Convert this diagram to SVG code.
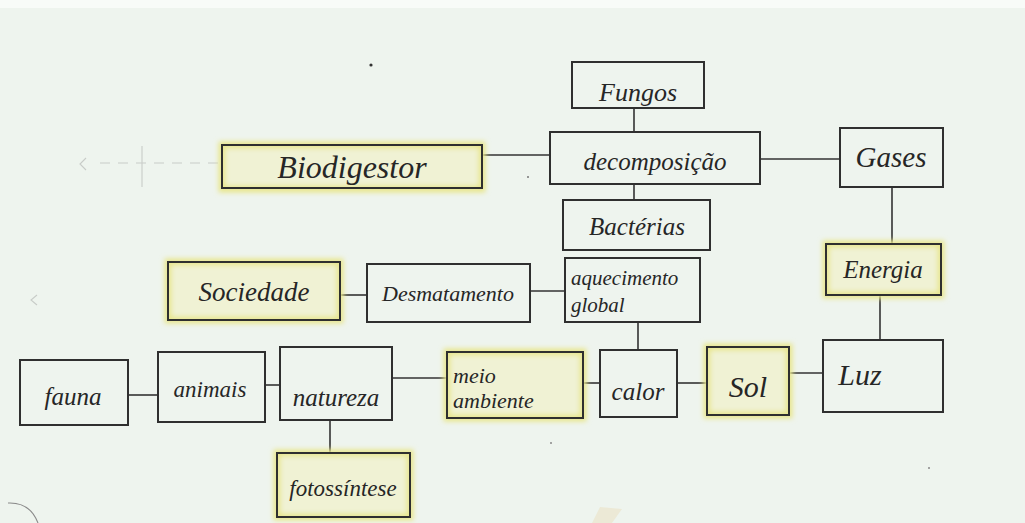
<svg xmlns="http://www.w3.org/2000/svg" width="1025" height="523" viewBox="0 0 1025 523">
  <defs>
    <filter id="soft" x="-10%" y="-20%" width="120%" height="140%">
      <feGaussianBlur stdDeviation="2.5"/>
    </filter>
    <style>
      .paper { fill: #eef4ee; }
      .box { fill: none; stroke: #2f2f2f; stroke-width: 2; }
      .hl { fill: #f0f2d4; stroke: #e8e68c; stroke-width: 7; filter: url(#soft); }
      .edge { stroke: #333333; stroke-width: 1.6; fill: none; }
      .faint { stroke: #c8ccc8; stroke-width: 1.1; fill: none; }
      .lbl { font-family: "Liberation Serif", "DejaVu Serif", serif; font-style: italic; fill: #262626; text-anchor: middle; }
      .lbl-l { font-family: "Liberation Serif", "DejaVu Serif", serif; font-style: italic; fill: #262626; text-anchor: start; }
    </style>
  </defs>

  <!-- paper -->
  <rect class="paper" x="0" y="0" width="1025" height="523"/>
  <rect x="0" y="0" width="1025" height="8" fill="#f8fbf8"/>

  <!-- erased pencil marks and specks -->
  <g id="marks">
    <path class="faint" d="M86 158 L80 164 L86 170"/>
    <line class="faint" x1="100" y1="163" x2="222" y2="163" stroke-dasharray="10 8"/>
    <line class="faint" x1="142" y1="146" x2="142" y2="187"/>
    <path class="faint" d="M37 295 L31 300 L37 305"/>
    <path d="M8 503 Q30 502 38 523" fill="none" stroke="#8a8a8a" stroke-width="1.1"/>
    <path d="M592 523 L600 507 L622 509 L612 523 Z" fill="#ece9d6"/>
    <circle cx="371" cy="65" r="1.6" fill="#333"/>
    <circle cx="528" cy="177" r="1" fill="#777"/>
    <circle cx="929" cy="468" r="1" fill="#888"/>
    <circle cx="551" cy="443" r="1" fill="#888"/>
  </g>

  <!-- connectors -->
  <g id="connectors">
    <line class="edge" x1="634" y1="108" x2="634" y2="132"/>
    <line class="edge" x1="634" y1="184" x2="634" y2="200"/>
    <line class="edge" x1="482" y1="155" x2="550" y2="155"/>
    <line class="edge" x1="760" y1="159" x2="840" y2="159"/>
    <line class="edge" x1="892" y1="187" x2="892" y2="244"/>
    <line class="edge" x1="880" y1="295" x2="880" y2="340"/>
    <line class="edge" x1="789" y1="373" x2="823" y2="373"/>
    <line class="edge" x1="677" y1="383" x2="707" y2="383"/>
    <line class="edge" x1="638" y1="322" x2="638" y2="350"/>
    <line class="edge" x1="583" y1="383" x2="600" y2="383"/>
    <line class="edge" x1="392" y1="378" x2="447" y2="378"/>
    <line class="edge" x1="265" y1="385" x2="280" y2="385"/>
    <line class="edge" x1="128" y1="395" x2="158" y2="395"/>
    <line class="edge" x1="330" y1="420" x2="330" y2="453"/>
    <line class="edge" x1="340" y1="295" x2="367" y2="295"/>
    <line class="edge" x1="530" y1="291" x2="565" y2="291"/>
  </g>

  <!-- nodes -->
  <g id="fungos">
    <rect class="box" x="572" y="62" width="132" height="46"/>
    <text class="lbl" x="638" y="101" font-size="26">Fungos</text>
  </g>
  <g id="decomposicao">
    <rect class="box" x="550" y="132" width="210" height="52"/>
    <text class="lbl" x="655" y="170" font-size="25">decomposição</text>
  </g>
  <g id="bacterias">
    <rect class="box" x="563" y="200" width="147" height="50"/>
    <text class="lbl" x="637" y="235" font-size="25">Bactérias</text>
  </g>
  <g id="biodigestor">
    <rect class="hl" x="222" y="145" width="260" height="44"/>
    <rect class="box" x="222" y="145" width="260" height="43"/>
    <text class="lbl" x="352" y="178" font-size="32">Biodigestor</text>
  </g>
  <g id="gases">
    <rect class="box" x="840" y="128" width="103" height="59"/>
    <text class="lbl" x="891" y="167" font-size="29">Gases</text>
  </g>
  <g id="energia">
    <rect class="hl" x="826" y="244" width="115" height="51"/>
    <rect class="box" x="826" y="244" width="115" height="51"/>
    <text class="lbl" x="883" y="278" font-size="25">Energia</text>
  </g>
  <g id="luz">
    <rect class="box" x="823" y="340" width="120" height="72"/>
    <text class="lbl" x="860" y="385" font-size="30">Luz</text>
  </g>
  <g id="sol">
    <rect class="hl" x="707" y="347" width="82" height="68"/>
    <rect class="box" x="707" y="347" width="82" height="68"/>
    <text class="lbl" x="748" y="397" font-size="30">Sol</text>
  </g>
  <g id="calor">
    <rect class="box" x="600" y="350" width="77" height="67"/>
    <text class="lbl" x="638" y="400" font-size="25">calor</text>
  </g>
  <g id="meio-ambiente">
    <rect class="hl" x="447" y="352" width="136" height="66"/>
    <rect class="box" x="447" y="352" width="136" height="66"/>
    <text class="lbl-l" x="453" y="383" font-size="22">meio</text>
    <text class="lbl-l" x="453" y="408" font-size="22">ambiente</text>
  </g>
  <g id="natureza">
    <rect class="box" x="280" y="347" width="112" height="73"/>
    <text class="lbl" x="336" y="406" font-size="25">natureza</text>
  </g>
  <g id="animais">
    <rect class="box" x="158" y="352" width="107" height="70"/>
    <text class="lbl" x="210" y="397" font-size="23">animais</text>
  </g>
  <g id="fauna">
    <rect class="box" x="20" y="360" width="108" height="65"/>
    <text class="lbl" x="73" y="405" font-size="25">fauna</text>
  </g>
  <g id="fotossintese">
    <rect class="hl" x="277" y="453" width="133" height="64"/>
    <rect class="box" x="277" y="453" width="133" height="64"/>
    <text class="lbl" x="343" y="496" font-size="23">fotossíntese</text>
  </g>
  <g id="sociedade">
    <rect class="hl" x="168" y="262" width="172" height="58"/>
    <rect class="box" x="168" y="262" width="172" height="58"/>
    <text class="lbl" x="254" y="301" font-size="27">Sociedade</text>
  </g>
  <g id="desmatamento">
    <rect class="box" x="367" y="264" width="163" height="58"/>
    <text class="lbl" x="448" y="301" font-size="22">Desmatamento</text>
  </g>
  <g id="aquecimento-global">
    <rect class="box" x="565" y="258" width="135" height="64"/>
    <text class="lbl-l" x="571" y="285" font-size="21">aquecimento</text>
    <text class="lbl-l" x="571" y="312" font-size="21">global</text>
  </g>
</svg>
